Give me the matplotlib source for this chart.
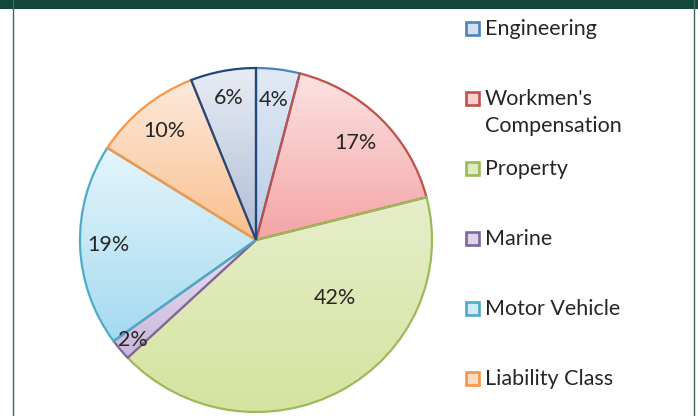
import numpy as np
import matplotlib.pyplot as plt
from matplotlib.colors import to_rgba
from matplotlib.patches import Rectangle

# data (percent of premium per class)
classes = ['Engineering', "Workmen's\nCompensation", 'Property', 'Marine',
           'Motor Vehicle', 'Liability Class', 'Others']
shares = [4, 17, 42, 2, 19, 10, 6]

edge_colors = ['#4f81bd', '#c0504d', '#9bbb59', '#8064a2', '#4bacc6', '#f79646', '#1f497d']
top_colors = ['#e2eaf6', '#fce2e2', '#e6eeca', '#e8e1f1', '#e5f5fc', '#fdeadc', '#e8ecf4']
bottom_colors = ['#b7cbe5', '#f4a5a5', '#d5e39e', '#c8b7db', '#a5daf0', '#fbbf8d', '#b0bdd6']

# label placement (fraction of radius, extra angle in degrees)
label_dist = [0.82, 0.80, 0.56, 0.91, 0.84, 0.82, 0.84]
label_shift = [0, 0, 24, 0, 0, 0, 0]

plt.rcParams['font.family'] = ['Lato', 'DejaVu Sans']
text_color = '#262626'
fs = 15.5

W, H = 698, 416
fig = plt.figure(figsize=(W / 100, H / 100), dpi=100)

# pie box: 352 x 344 px centred at (256, 240)
ax = fig.add_axes([(256 - 176) / W, (H - 240 - 172) / H, 352 / W, 344 / H])
wedges, _ = ax.pie(shares, startangle=90, counterclock=False, radius=1,
                   wedgeprops=dict(linewidth=0))

def gradient(c_top, c_bot, n=64):
    t = np.linspace(0, 1, n)[:, None]
    a = np.array(to_rgba(c_top))
    b = np.array(to_rgba(c_bot))
    return (a * (1 - t) + b * t)[:, None, :]

for i, w in enumerate(wedges):
    verts = w.get_path().vertices
    verts = w.get_patch_transform().transform(verts)
    x0, y0 = verts.min(axis=0)
    x1, y1 = verts.max(axis=0)
    w.set_facecolor('none')
    im = ax.imshow(gradient(top_colors[i], bottom_colors[i]), extent=(x0, x1, y0, y1),
                   origin='upper', aspect='auto', interpolation='bilinear', zorder=1)
    im.set_clip_path(w)

# outlines in slice order, later slices on top
for i, w in enumerate(wedges):
    w.set_edgecolor(edge_colors[i])
    w.set_linewidth(1.6)
    w.set_zorder(2 + i)

for i, w in enumerate(wedges):
    ang = np.deg2rad((w.theta1 + w.theta2) / 2 + label_shift[i])
    r = label_dist[i]
    ax.text(r * np.cos(ang), r * np.sin(ang), f'{shares[i]}%', ha='center', va='center',
            fontsize=fs, color=text_color, zorder=20)

ax.set_xlim(-1, 1)
ax.set_ylim(-1, 1)
ax.set_aspect('auto')
ax.axis('off')

# legend drawn by hand, one entry every 70 px; the last one falls below the crop
for i, name in enumerate(classes):
    yc = 28 + 70 * i
    if yc + 12 > H:
        break
    fig.patches.append(Rectangle((466 / W, 1 - (yc + 7) / H), 13 / W, 13 / H,
                                 transform=fig.transFigure,
                                 facecolor=gradient(top_colors[i], bottom_colors[i])[20, 0],
                                 edgecolor=edge_colors[i], linewidth=1.9))
    fig.text(485 / W, 1 - (yc - 9) / H, name, ha='left', va='top', fontsize=fs,
             color=text_color, linespacing=1.45)

# frame: dark green band on top and thin side rules
fig.patches.append(Rectangle((0, 1 - 9 / H), 1, 9 / H, transform=fig.transFigure,
                             facecolor='#12473a', edgecolor='none'))
for xp in (12.5, 693.5):
    fig.add_artist(plt.Line2D([xp / W, xp / W], [0, 1], transform=fig.transFigure,
                              color='#3a6b58', linewidth=1))

fig.savefig('out.png', dpi=100)
